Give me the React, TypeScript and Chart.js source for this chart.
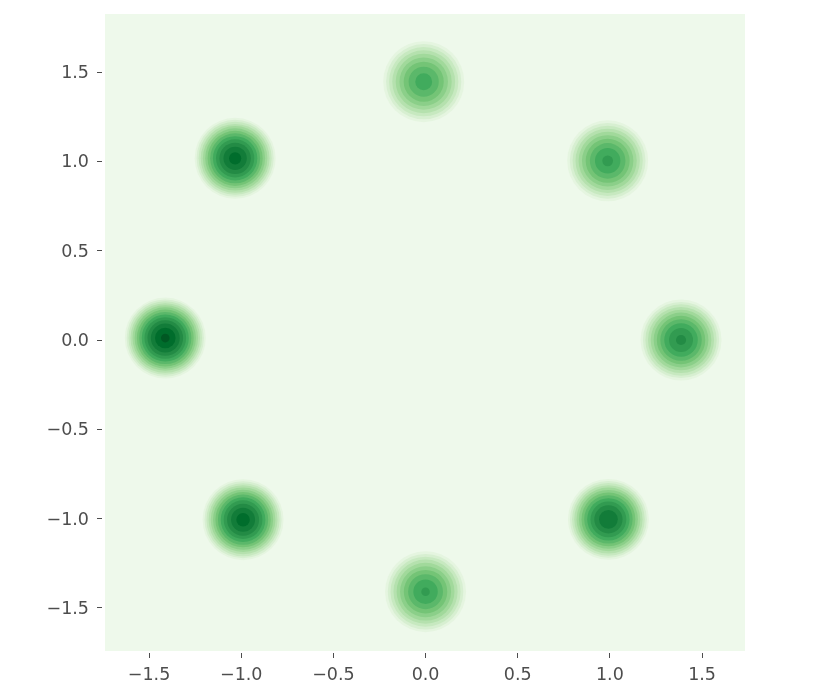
import React, { useEffect, useRef } from "react";
import { Chart, registerables } from "chart.js";

Chart.register(...registerables);

// Mode centres (data units)
const blobX = [-1.412, -1.033, -0.99, 0.992, 1.386, 0.988, 0.0, -0.01];
const blobY = [0.011, 1.017, -1.006, -1.004, 0.0, 1.003, -1.409, 1.446];
// Peak density of each mode, in units of the contour step
const blobPeak = [14.3, 13.5, 13.6, 13.0, 11.3, 10.3, 10.2, 9.6];
// Radius (data units) where each mode's density falls to zero
const blobRadius = [0.2327, 0.2333, 0.2332, 0.2337, 0.2355, 0.2368, 0.2369, 0.2379];
// Shape of the density profile: f(r) = peak * (1 - (r / radius) ^ PROFILE_EXP)
const PROFILE_EXP = 1.7;
// Contour levels (in units of the contour step)
const levels = [1, 2, 3, 4, 5, 6, 7, 8, 9, 10, 11, 12, 13, 14];

const xTicks = [-1.5, -1.0, -0.5, 0.0, 0.5, 1.0, 1.5];
const yTicks = [-1.5, -1.0, -0.5, 0.0, 0.5, 1.0, 1.5];
const xRange = [-1.739, 1.733];
const yRange = [-1.741, 1.825];

// Greens colormap stops
const GREENS = [
  [247, 252, 245],
  [229, 245, 224],
  [199, 233, 192],
  [161, 217, 155],
  [116, 196, 118],
  [65, 171, 93],
  [35, 139, 69],
  [0, 109, 44],
  [0, 68, 27],
];

function greens(t: number): string {
  const tt = Math.max(0, Math.min(1, t)) * (GREENS.length - 1);
  const i = Math.min(GREENS.length - 2, Math.floor(tt));
  const f = tt - i;
  const a = GREENS[i];
  const b = GREENS[i + 1];
  const c = a.map((v, j) => Math.round(v + (b[j] - v) * f));
  return `rgb(${c[0]},${c[1]},${c[2]})`;
}

const levelColor = (k: number) => greens(0.06 + k * 0.0627);

const fmt = (v: number) => (v < 0 ? "\u2212" : "") + Math.abs(v).toFixed(1);

const TEXT = "#4d4d4d";
const FONT = { family: "'DejaVu Sans', sans-serif", size: 17.5 };

const zeroPad = (s: any) => {
  s.paddingTop = 0;
  s.paddingBottom = 0;
  s.paddingLeft = 0;
  s.paddingRight = 0;
};

export default function App() {
  const ref = useRef<HTMLCanvasElement | null>(null);

  useEffect(() => {
    document.body.style.margin = "0";
    const canvas = ref.current;
    if (!canvas) return;

    const datasets = levels.map((k) => ({
      label: `level ${k}`,
      order: levels.length - k,
      data: blobX
        .map((x, i) => ({
          x,
          y: blobY[i],
          rad: blobPeak[i] > k ? blobRadius[i] * Math.pow(1 - k / blobPeak[i], 1 / PROFILE_EXP) : 0,
        }))
        .filter((p) => p.rad > 0),
      backgroundColor: levelColor(k),
      borderWidth: 0,
      pointBorderWidth: 0,
      pointRadius: (ctx: any) => {
        const raw = ctx.raw;
        const xs = ctx.chart.scales.x;
        const ys = ctx.chart.scales.y;
        if (!raw || !xs || !ys) return 0;
        const rx = Math.abs(xs.getPixelForValue(raw.x + raw.rad) - xs.getPixelForValue(raw.x));
        const ry = Math.abs(ys.getPixelForValue(raw.y + raw.rad) - ys.getPixelForValue(raw.y));
        return (rx + ry) / 2;
      },
      pointHoverRadius: 0,
    }));

    const bgPlugin = {
      id: "bgFill",
      beforeDatasetsDraw(chart: any) {
        const { ctx, chartArea } = chart;
        ctx.save();
        ctx.fillStyle = levelColor(0);
        ctx.fillRect(chartArea.left, chartArea.top, chartArea.right - chartArea.left, chartArea.bottom - chartArea.top);
        ctx.restore();
      },
    };

    const chart = new Chart(canvas, {
      type: "scatter",
      data: { datasets: datasets as any },
      plugins: [bgPlugin],
      options: {
        responsive: false,
        animation: false,
        events: [],
        layout: { padding: { left: 0, right: 85, top: 14, bottom: 0 } },
        plugins: { legend: { display: false }, tooltip: { enabled: false } },
        scales: {
          x: {
            type: "linear",
            min: xRange[0],
            max: xRange[1],
            afterBuildTicks: (s: any) => {
              s.ticks = xTicks.map((v) => ({ value: v }));
            },
            afterFit: (s: any) => {
              s.height = 41;
              zeroPad(s);
            },
            border: { display: false },
            grid: {
              drawOnChartArea: false,
              drawTicks: true,
              tickLength: 7,
              tickColor: TEXT,
              tickWidth: 1,
              tickBorderDash: [5, 2],
              tickBorderDashOffset: 5,
            },
            ticks: { color: TEXT, font: FONT, padding: 7, maxRotation: 0, callback: (v: any) => fmt(Number(v)) },
          },
          y: {
            type: "linear",
            min: yRange[0],
            max: yRange[1],
            afterBuildTicks: (s: any) => {
              s.ticks = yTicks.map((v) => ({ value: v }));
            },
            afterFit: (s: any) => {
              s.width = 105;
              zeroPad(s);
            },
            border: { display: false },
            grid: {
              drawOnChartArea: false,
              drawTicks: true,
              tickLength: 8,
              tickColor: TEXT,
              tickWidth: 1,
              tickBorderDash: [5, 3],
            },
            ticks: { color: TEXT, font: FONT, padding: 8, labelOffset: 1.5, callback: (v: any) => fmt(Number(v)) },
          },
        },
      },
    });

    return () => chart.destroy();
  }, []);

  return (
    <div style={{ width: 830, height: 692 }}>
      <canvas ref={ref} width={830} height={692} style={{ display: "block", width: 830, height: 692 }} />
    </div>
  );
}
